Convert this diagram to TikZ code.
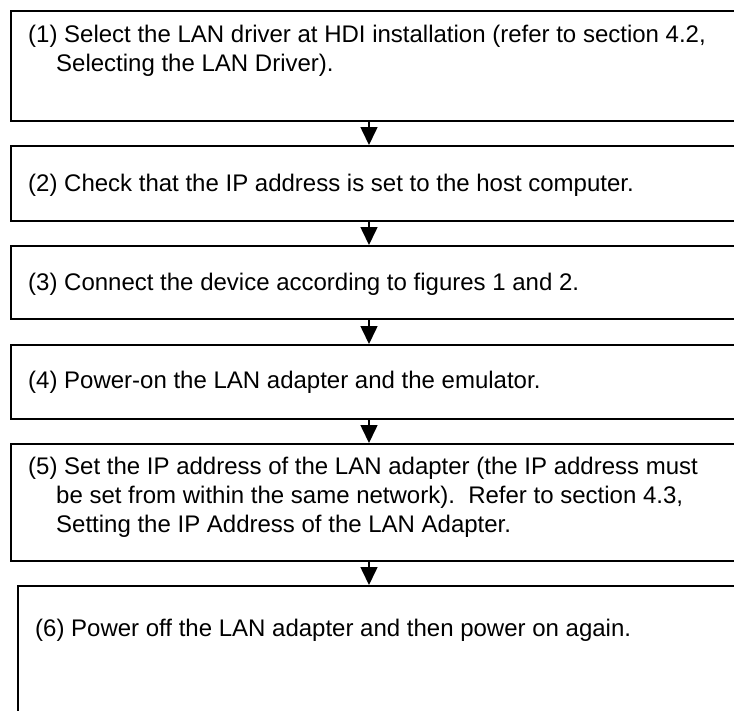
\documentclass[tikz,border=0pt]{standalone}
\usepackage{fontspec}
\setmainfont{Liberation Sans}
\usetikzlibrary{arrows.meta,calc}
\begin{document}
\begin{tikzpicture}[x=1pt,y=-1pt,
  stepbox/.style={draw,line width=1.6pt,rectangle,anchor=north west,inner sep=0pt,minimum width=760pt},
  steptext/.style={anchor=base west,inner sep=0pt,align=left,font=\fontsize{24}{29}\selectfont},
  flow/.style={line width=1.6pt,-{Triangle[width=17pt,length=18pt]}}]
\clip (0,0) rectangle (734,710);
\fill[white] (0,0) rectangle (734,710);
% boxes
\node[stepbox,minimum height=110pt] (b1) at (10,10) {};
\node[stepbox,minimum height=75pt] (b2) at (10,145) {};
\node[stepbox,minimum height=73pt] (b3) at (10,245) {};
\node[stepbox,minimum height=74pt] (b4) at (10,344) {};
\node[stepbox,minimum height=117pt] (b5) at (10,443) {};
\node[stepbox,minimum height=150pt] (b6) at (17,585) {};
% texts (base anchor = last line's baseline)
\node[steptext] (t1) at (28,71) {(1) Select the LAN driver at HDI installation (refer to section 4.2,\\\hspace*{28pt}Selecting the LAN Driver).};
\node[steptext] (t2) at (28,191) {(2) Check that the IP address is set to the host computer.};
\node[steptext] (t3) at (28,290) {(3) Connect the device according to figures 1 and 2.};
\node[steptext] (t4) at (28,388) {(4) Power-on the LAN adapter and the emulator.};
\node[steptext] (t5) at (28,532) {(5) Set the IP address of the LAN adapter (the IP address must\\\hspace*{28pt}be set from within the same network).\ \ Refer to section 4.3,\\\hspace*{28pt}Setting the IP Address of the LAN Adapter.};
\node[steptext] (t6) at (35,636) {(6) Power off the LAN adapter and then power on again.};
% arrows
\coordinate (ax) at (369,0);
\draw[flow] (b1.south -| ax) -- (b2.north -| ax);
\draw[flow] (b2.south -| ax) -- (b3.north -| ax);
\draw[flow] (b3.south -| ax) -- (b4.north -| ax);
\draw[flow] (b4.south -| ax) -- (b5.north -| ax);
\draw[flow] (b5.south -| ax) -- (b6.north -| ax);
\end{tikzpicture}
\end{document}
